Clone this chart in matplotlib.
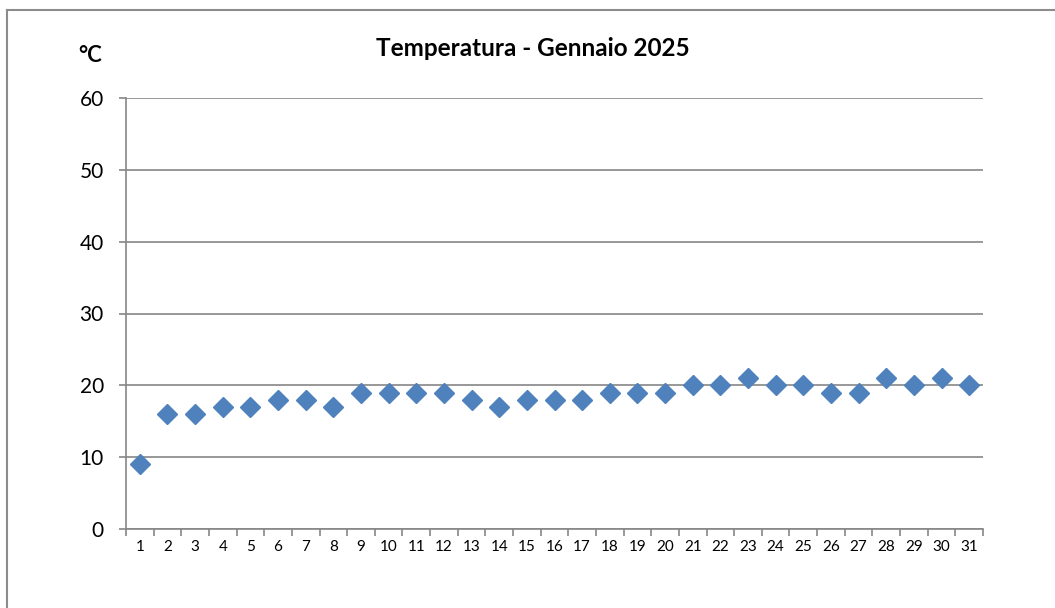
import matplotlib
matplotlib.use("Agg")
import matplotlib.pyplot as plt
from matplotlib.lines import Line2D

days = list(range(1, 32))
temps = [9, 16, 16, 17, 17, 18, 18, 17, 19, 19, 19, 19, 18, 17, 18, 18, 18,
         19, 19, 19, 20, 20, 21, 20, 20, 19, 19, 21, 20, 21, 20]
yticks = [0, 10, 20, 30, 40, 50, 60]
title = "Temperatura - Gennaio 2025"
ylabel = "°C"

plt.rcParams['font.family'] = ['Lato', 'DejaVu Sans']

W, H = 1055, 608
fig = plt.figure(figsize=(W / 100, H / 100), dpi=100)
ax = fig.add_axes([126 / W, 1 - 529 / H, (983 - 126) / W, (529 - 98) / H])

grid_c = '#868686'
ax.plot(days, temps, linestyle='none', marker='D', markersize=10.5,
        color='#4F81BD', markeredgecolor='#4F81BD', zorder=3)

ax.set_xlim(0.5, 31.5)
ax.set_ylim(0, 60)
ax.set_yticks(yticks)
ax.yaxis.grid(True, color=grid_c, linewidth=1.2)
ax.set_axisbelow(True)

# category ticks at boundaries, labels at centers
ax.set_xticks([d - 0.5 for d in days] + [31.5])
ax.set_xticklabels([])
ax.set_xticks(days, minor=True)
ax.set_xticklabels([str(d) for d in days], minor=True, fontsize=11)
ax.tick_params(axis='x', which='major', length=5, color=grid_c, width=1.2, direction='out')
ax.tick_params(axis='x', which='minor', length=0, pad=8)
ax.tick_params(axis='y', length=5, color=grid_c, width=1.2, labelsize=15, pad=11)

for s in ['top', 'right']:
    ax.spines[s].set_visible(False)
for s in ['left', 'bottom']:
    ax.spines[s].set_color(grid_c)
    ax.spines[s].set_linewidth(1.2)

fig.text(533 / W, 1 - 48 / H, title, ha='center', va='center',
         fontsize=17.5, fontweight='bold')
fig.text(90 / W, 1 - 55 / H, ylabel, ha='center', va='center',
         fontsize=16, fontweight='bold')

# chart-area border (only left and top visible, cropped on right/bottom)
fig.lines.append(Line2D([6.5 / W, 6.5 / W], [0, 1 - 10 / H], transform=fig.transFigure,
                        color='#8c8c8c', linewidth=1.5))
fig.lines.append(Line2D([6.5 / W, 1], [1 - 10 / H, 1 - 10 / H], transform=fig.transFigure,
                        color='#8c8c8c', linewidth=1.5))

fig.savefig('out.png', dpi=100)
